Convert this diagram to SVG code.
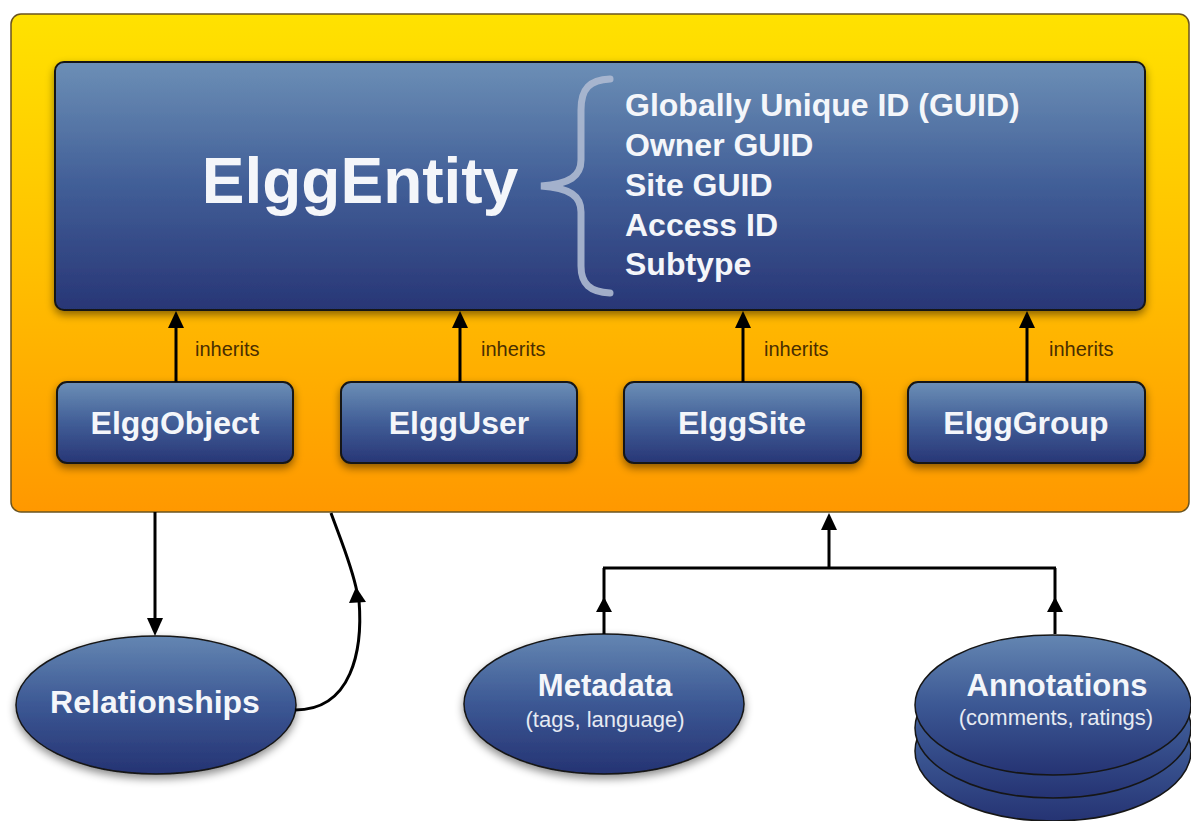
<svg xmlns="http://www.w3.org/2000/svg" width="1191" height="821" viewBox="0 0 1191 821">
  <defs>
    <linearGradient id="gOuter" x1="0" y1="0" x2="0" y2="1">
      <stop offset="0" stop-color="#FFE200"/>
      <stop offset="0.5" stop-color="#FFC000"/>
      <stop offset="1" stop-color="#FF9800"/>
    </linearGradient>
    <linearGradient id="gBlue" x1="0" y1="0" x2="0" y2="1">
      <stop offset="0" stop-color="#6C8FB6"/>
      <stop offset="0.5" stop-color="#415E97"/>
      <stop offset="1" stop-color="#283676"/>
    </linearGradient>
    <linearGradient id="gEll" x1="0" y1="0" x2="0" y2="1">
      <stop offset="0" stop-color="#6486B2"/>
      <stop offset="0.5" stop-color="#3C5894"/>
      <stop offset="1" stop-color="#253373"/>
    </linearGradient>
    <filter id="shadow" x="-10%" y="-10%" width="120%" height="130%">
      <feDropShadow dx="0" dy="4" stdDeviation="4" flood-color="#000" flood-opacity="0.45"/>
    </filter>
  </defs>
  <style>
    .box { fill: url(#gBlue); stroke: #161616; stroke-width: 2; filter: url(#shadow); }
    .ell { fill: url(#gEll); stroke: #161616; stroke-width: 1.5; }
    .lbl { font-family: "Liberation Sans", Arial, sans-serif; font-weight: bold; fill: #F4F6FA; text-anchor: middle; }
    .prop { font-family: "Liberation Sans", Arial, sans-serif; font-weight: bold; fill: #F4F6FA; font-size: 32px; }
    .sub { font-family: "Liberation Sans", Arial, sans-serif; fill: #E6EAF2; text-anchor: middle; font-size: 22px; }
    .inh { font-family: "Liberation Sans", Arial, sans-serif; fill: #4A2E00; font-size: 20px; }
    .line { fill: none; stroke: #000; stroke-width: 3; }
    .head { fill: #000; }
  </style>

  <g id="container">
    <rect x="11" y="14" width="1178" height="498" rx="10" fill="url(#gOuter)" stroke="#6A5420" stroke-width="1.5"/>
  </g>

  <g id="ElggEntity">
    <rect class="box" x="55" y="62" width="1090" height="248" rx="9"/>
    <text class="lbl" x="360" y="203" font-size="64">ElggEntity</text>
    <path d="M610,79 C590,80 581,88 581,110 L581,160 C581,176 570,184 541,186 C570,188 581,196 581,212 L581,266 C581,284 590,292 610,293" fill="none" stroke="#AEBAD2" stroke-opacity="0.9" stroke-width="7" stroke-linecap="round"/>
    <text class="prop" x="625" y="116">Globally Unique ID (GUID)</text>
    <text class="prop" x="625" y="156">Owner GUID</text>
    <text class="prop" x="625" y="196">Site GUID</text>
    <text class="prop" x="625" y="236">Access ID</text>
    <text class="prop" x="625" y="275">Subtype</text>
  </g>

  <g id="ElggObject">
    <rect class="box" x="57" y="382" width="236" height="81" rx="10"/>
    <text class="lbl" x="175" y="434" font-size="32">ElggObject</text>
  </g>
  <g id="ElggUser">
    <rect class="box" x="341" y="382" width="236" height="81" rx="10"/>
    <text class="lbl" x="459" y="434" font-size="32">ElggUser</text>
  </g>
  <g id="ElggSite">
    <rect class="box" x="624" y="382" width="237" height="81" rx="10"/>
    <text class="lbl" x="742" y="434" font-size="32">ElggSite</text>
  </g>
  <g id="ElggGroup">
    <rect class="box" x="908" y="382" width="237" height="81" rx="10"/>
    <text class="lbl" x="1026" y="434" font-size="32">ElggGroup</text>
  </g>

  <g id="Relationships">
    <ellipse class="ell" cx="156" cy="705" rx="140" ry="69" filter="url(#shadow)"/>
    <text class="lbl" x="155" y="713" font-size="32">Relationships</text>
  </g>

  <g id="Metadata">
    <ellipse class="ell" cx="604" cy="704" rx="140" ry="70" filter="url(#shadow)"/>
    <text class="lbl" x="605" y="696" font-size="31">Metadata</text>
    <text class="sub" x="605" y="727">(tags, language)</text>
  </g>

  <g id="Annotations">
    <ellipse class="ell" cx="1053" cy="751" rx="138" ry="70"/>
    <ellipse class="ell" cx="1053" cy="728" rx="138" ry="70"/>
    <ellipse class="ell" cx="1053" cy="705" rx="138" ry="70"/>
    <text class="lbl" x="1057" y="696" font-size="31">Annotations</text>
    <text class="sub" x="1056" y="725" font-size="23">(comments, ratings)</text>
  </g>

  <g id="connectors">
    <line class="line" x1="176" y1="382" x2="176" y2="326"/>
    <polygon class="head" points="176,311 168,328 184,328"/>
    <text class="inh" x="195" y="356">inherits</text>

    <line class="line" x1="460" y1="382" x2="460" y2="326"/>
    <polygon class="head" points="460,311 452,328 468,328"/>
    <text class="inh" x="481" y="356">inherits</text>

    <line class="line" x1="743" y1="382" x2="743" y2="326"/>
    <polygon class="head" points="743,311 735,328 751,328"/>
    <text class="inh" x="764" y="356">inherits</text>

    <line class="line" x1="1027" y1="382" x2="1027" y2="326"/>
    <polygon class="head" points="1027,311 1019,328 1035,328"/>
    <text class="inh" x="1049" y="356">inherits</text>

    <line class="line" x1="155" y1="512" x2="155" y2="620"/>
    <polygon class="head" points="155,636 147,618 163,618"/>

    <path class="line" d="M331,513 C340,538 352,566 357,592"/>
    <path class="line" d="M359,600 C363,650 352,710 295,710"/>
    <polygon class="head" points="356,587 349,603 366,602"/>

    <line class="line" x1="604" y1="634" x2="604" y2="568"/>
    <line class="line" x1="1055" y1="634" x2="1055" y2="568"/>
    <polyline class="line" points="603,568 829,568 1056,568"/>
    <line class="line" x1="829" y1="568" x2="829" y2="528"/>
    <polygon class="head" points="604,597 596,612 612,612"/>
    <polygon class="head" points="1055,597 1047,612 1063,612"/>
    <polygon class="head" points="829,513 821,530 837,530"/>
  </g>
</svg>
